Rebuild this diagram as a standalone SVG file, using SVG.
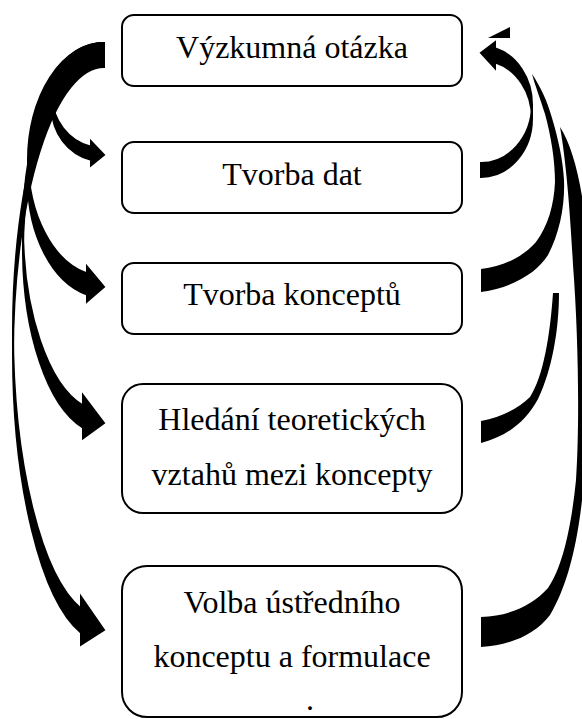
<svg xmlns="http://www.w3.org/2000/svg" width="582" height="719" viewBox="0 0 582 719">
<style>
.box{fill:#fff;stroke:#000;stroke-width:2}
.lbl{font-family:'Liberation Serif','Times New Roman',Times,serif;font-size:32px;fill:#000;text-anchor:middle}
.arr{fill:#000;stroke:#000;stroke-width:2;stroke-linejoin:miter}
.arrf{fill:#000;stroke:none}
</style>
<rect width="582" height="719" fill="#fff"/>
<g id="connectors">
  <path id="l2" class="arr" d="M 52,95.75 A 52 52.75 0 0 0 91,146.82 L 91,141.32 L 104,155 L 91,165.32 L 91,159.82 A 52 52.75 0 0 1 52,108.75 Z M 104,56 A 52 52.75 0 0 0 52,108.75 L 52,95.75 A 52 52.75 0 0 1 104,43 Z"/>
  <path id="l3" class="arr" d="M 28,159.75 A 76 116.75 0 0 0 87,273.54 L 87,266.54 L 104,287 L 87,301.54 L 87,294.54 A 76 116.75 0 0 1 28,180.75 Z M 104,64 A 76 116.75 0 0 0 28,180.75 L 28,159.75 A 76 116.75 0 0 1 104,43 Z"/>
  <path id="l4" class="arr" d="M 23,227.5 A 81 184.5 0 0 0 83,405.69 L 83,395.19 L 104,423 L 83,438.19 L 83,427.69 A 81 184.5 0 0 1 23,249.5 Z M 104,65 A 81 184.5 0 0 0 23,249.5 L 23,227.5 A 81 184.5 0 0 1 104,43 Z"/>
  <path id="l5" class="arr" d="M 13,330.5 A 91 287.5 0 0 0 81,608.67 L 81,596.67 L 104,630 L 81,644.67 L 81,632.67 A 91 287.5 0 0 1 13,354.5 Z M 104,67 A 91 287.5 0 0 0 13,354.5 L 13,330.5 A 91 287.5 0 0 1 104,43 Z"/>
  <path id="r2" class="arr" d="M 481,163 A 51 58.5 0 0 0 532,104.5 L 532,118.5 A 51 58.5 0 0 1 481,177 Z M 532,118.5 A 51 58.5 0 0 0 495,62.25 L 495,68.25 L 481,53 L 495,42.25 L 495,48.25 A 51 58.5 0 0 1 532,104.5 Z"/>
  <path id="r3" class="arrf" d="M 532,74 C 540,86 547,100 552,118 C 558,138 563,160 564,180 C 565,205 560,232 548,255 C 537,272 515,287 481,292 L 481,269 C 505,266 524,256 536,242 C 548,226 554,205 555,182 C 555,160 551,136 545,114 C 540,98 535,85 532,74 Z"/>
  <path id="r4" class="arrf" d="M 553,293 L 559,293 C 559,330 552,370 538,399 C 526,421 508,436 481,443 L 481,421 C 503,417 520,407 530,397 C 543,377 550,337 553,293 Z"/>
  <path id="r5" class="arrf" d="M 560,127 C 575,150 586,200 588,260 C 590,340 590,430 584,480 C 579,540 568,585 550,615 C 535,635 510,645 481,647 L 481,617 C 510,616 533,605 548,588 C 564,565 572,520 576,480 C 580,420 578,330 573,265 C 570,210 566,160 560,127 Z"/>
  <polygon id="rhead" class="arrf" points="488,38 510,27 510,38"/>
</g>
<g id="n1"><rect class="box" x="122" y="15" width="340" height="71" rx="12"/><text class="lbl" font-family="Liberation Serif" x="292" y="58">Výzkumná otázka</text></g>
<g id="n2"><rect class="box" x="122" y="142" width="340" height="71" rx="12"/><text class="lbl" font-family="Liberation Serif" x="292" y="185">Tvorba dat</text></g>
<g id="n3"><rect class="box" x="122" y="263" width="340" height="71" rx="12"/><text class="lbl" font-family="Liberation Serif" x="292" y="305">Tvorba konceptů</text></g>
<g id="n4"><rect class="box" x="122" y="384" width="340" height="129" rx="21"/><text class="lbl" font-family="Liberation Serif" x="292" y="430">Hledání teoretických</text><text class="lbl" font-family="Liberation Serif" x="292" y="485">vztahů mezi koncepty</text></g>
<g id="n5"><rect class="box" x="122" y="566" width="340" height="151" rx="25"/><text class="lbl" font-family="Liberation Serif" x="292" y="613">Volba ústředního</text><text class="lbl" font-family="Liberation Serif" x="292" y="667">konceptu a formulace</text><text class="lbl" font-family="Liberation Serif" x="310" y="710">.</text></g>
</svg>
